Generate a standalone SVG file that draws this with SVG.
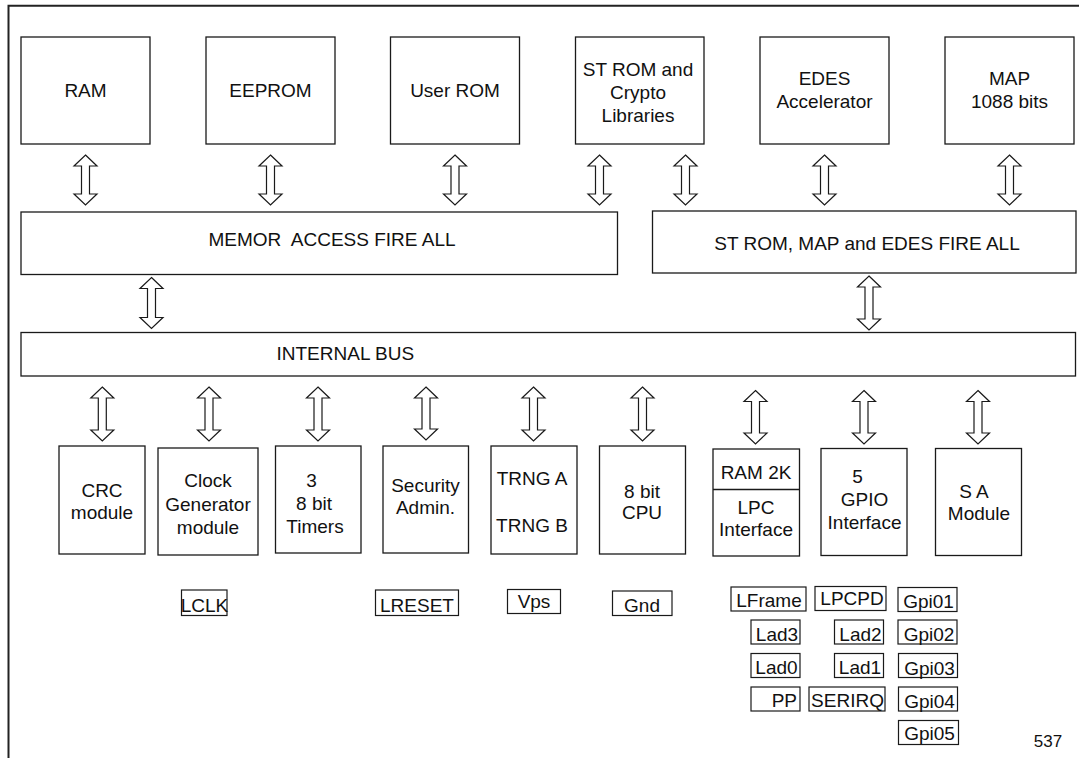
<svg xmlns="http://www.w3.org/2000/svg" width="1079" height="758" viewBox="0 0 1079 758">
<style>
.box{fill:#fff;stroke:#1a1a1a;stroke-width:1.3}
.pin{fill:#fff;stroke:#1a1a1a;stroke-width:1.2}
.arr{fill:#fff;stroke:#1a1a1a;stroke-width:1.2;stroke-linejoin:miter}
.frame{fill:none;stroke:#222;stroke-width:2}
text{font-family:"Liberation Sans",Arial,sans-serif;font-size:19px;fill:#111;text-anchor:middle}
.st{text-anchor:start}
.en{text-anchor:end}
.num{font-size:17px}
</style>
<rect width="1079" height="758" fill="#fff"/>
<g id="frame"><path class="frame" d="M8.5,758 V5.7 H1079"/></g>

<g id="connectors">
<path class="arr" d="M85.5,155 l11.5,11 h-7.5 v28 h7.5 l-11.5,11 l-11.5,-11 h7.5 v-28 h-7.5 z"/>
<path class="arr" d="M270.5,155 l11.5,11 h-7.5 v28 h7.5 l-11.5,11 l-11.5,-11 h7.5 v-28 h-7.5 z"/>
<path class="arr" d="M455,155 l11.5,11 h-7.5 v28 h7.5 l-11.5,11 l-11.5,-11 h7.5 v-28 h-7.5 z"/>
<path class="arr" d="M599.5,155 l11.5,11 h-7.5 v28 h7.5 l-11.5,11 l-11.5,-11 h7.5 v-28 h-7.5 z"/>
<path class="arr" d="M685.5,155 l11.5,11 h-7.5 v28 h7.5 l-11.5,11 l-11.5,-11 h7.5 v-28 h-7.5 z"/>
<path class="arr" d="M824.5,155 l11.5,11 h-7.5 v28 h7.5 l-11.5,11 l-11.5,-11 h7.5 v-28 h-7.5 z"/>
<path class="arr" d="M1009.5,155 l11.5,11 h-7.5 v28 h7.5 l-11.5,11 l-11.5,-11 h7.5 v-28 h-7.5 z"/>
<path class="arr" d="M151.5,277.5 l11.5,11 h-7.5 v29 h7.5 l-11.5,11 l-11.5,-11 h7.5 v-29 h-7.5 z"/>
<path class="arr" d="M869,276 l11.5,11 h-7.5 v32 h7.5 l-11.5,11 l-11.5,-11 h7.5 v-32 h-7.5 z"/>
<path class="arr" d="M102.3,387 l11.5,11 h-7.5 v32 h7.5 l-11.5,11 l-11.5,-11 h7.5 v-32 h-7.5 z"/>
<path class="arr" d="M209,387 l11.5,11 h-7.5 v32 h7.5 l-11.5,11 l-11.5,-11 h7.5 v-32 h-7.5 z"/>
<path class="arr" d="M318,387 l11.5,11 h-7.5 v32 h7.5 l-11.5,11 l-11.5,-11 h7.5 v-32 h-7.5 z"/>
<path class="arr" d="M426,387 l11.5,11 h-7.5 v31 h7.5 l-11.5,11 l-11.5,-11 h7.5 v-31 h-7.5 z"/>
<path class="arr" d="M533.5,387 l11.5,11 h-7.5 v32 h7.5 l-11.5,11 l-11.5,-11 h7.5 v-32 h-7.5 z"/>
<path class="arr" d="M642.5,387 l11.5,11 h-7.5 v32 h7.5 l-11.5,11 l-11.5,-11 h7.5 v-32 h-7.5 z"/>
<path class="arr" d="M755.5,390.5 l11.5,11 h-7.5 v31.5 h7.5 l-11.5,11 l-11.5,-11 h7.5 v-31.5 h-7.5 z"/>
<path class="arr" d="M864,390.5 l11.5,11 h-7.5 v31.5 h7.5 l-11.5,11 l-11.5,-11 h7.5 v-31.5 h-7.5 z"/>
<path class="arr" d="M978,390.5 l11.5,11 h-7.5 v31.5 h7.5 l-11.5,11 l-11.5,-11 h7.5 v-31.5 h-7.5 z"/>
</g>

<g id="ram"><rect class="box" x="21" y="37" width="129" height="107"/><text x="85.5" y="96.5">RAM</text></g>
<g id="eeprom"><rect class="box" x="206" y="37" width="129" height="107"/><text x="270.5" y="96.5">EEPROM</text></g>
<g id="user-rom"><rect class="box" x="390.5" y="37" width="129" height="107"/><text x="455" y="96.5">User ROM</text></g>
<g id="st-rom"><rect class="box" x="575.5" y="37" width="128.5" height="107"/><text x="638" y="75.5">ST ROM and</text><text x="638" y="98.5">Crypto</text><text x="638" y="122">Libraries</text></g>
<g id="edes"><rect class="box" x="760" y="37" width="129" height="107"/><text x="824.5" y="84.5">EDES</text><text x="824.5" y="108">Accelerator</text></g>
<g id="map"><rect class="box" x="945" y="37" width="129" height="107"/><text x="1009.5" y="84.5">MAP</text><text x="1009.5" y="108">1088 bits</text></g>

<g id="memory-firewall"><rect class="box" x="21" y="212" width="596.5" height="62.5"/><text x="332" y="246" xml:space="preserve" style="white-space:pre">MEMOR  ACCESS FIRE ALL</text></g>
<g id="st-firewall"><rect class="box" x="652.5" y="211" width="423.5" height="62"/><text x="867" y="249.5">ST ROM, MAP and EDES FIRE ALL</text></g>
<g id="internal-bus"><rect class="box" x="21" y="332.5" width="1054.5" height="43.5"/><text class="st" x="276.5" y="360">INTERNAL BUS</text></g>

<g id="crc"><rect class="box" x="59" y="446" width="86" height="108"/><text x="102" y="497">CRC</text><text x="102" y="519">module</text></g>
<g id="clock"><rect class="box" x="158" y="448" width="100" height="107"/><text x="208" y="487">Clock</text><text x="208" y="510.5">Generator</text><text x="208" y="534">module</text></g>
<g id="timers"><rect class="box" x="275.5" y="446" width="85.5" height="107"/><text x="311.5" y="487">3</text><text x="314" y="509.5">8 bit</text><text x="315" y="533">Timers</text></g>
<g id="security"><rect class="box" x="383" y="446" width="85.5" height="107"/><text x="425.5" y="491.5">Security</text><text x="425.5" y="513.5">Admin.</text></g>
<g id="trng"><rect class="box" x="491" y="446" width="86" height="108"/><text x="532" y="484.5">TRNG A</text><text x="532" y="531.5">TRNG B</text></g>
<g id="cpu"><rect class="box" x="599.5" y="446" width="86" height="108"/><text x="642" y="497.5">8 bit</text><text x="642" y="519">CPU</text></g>
<g id="lpc"><rect class="box" x="713" y="449" width="86.5" height="107"/><line class="box" x1="713" y1="489.5" x2="799.5" y2="489.5"/><text x="756" y="479">RAM 2K</text><text x="756" y="513.5">LPC</text><text x="756" y="536">Interface</text></g>
<g id="gpio"><rect class="box" x="821" y="448.5" width="86" height="107"/><text x="857.5" y="482.5">5</text><text x="864.5" y="506">GPIO</text><text x="864.5" y="529">Interface</text></g>
<g id="sa"><rect class="box" x="935.5" y="448.5" width="86" height="107"/><text x="974" y="497.5">S A</text><text x="979" y="520">Module</text></g>

<g id="pin-lclk"><rect class="pin" x="181.5" y="590" width="45.5" height="25.5"/><text x="204.5" y="612">LCLK</text></g>
<g id="pin-lreset"><rect class="pin" x="375.5" y="590" width="83" height="25.5"/><text x="417" y="612">LRESET</text></g>
<g id="pin-vps"><rect class="pin" x="507.5" y="589.5" width="53" height="24"/><text x="534" y="608">Vps</text></g>
<g id="pin-gnd"><rect class="pin" x="612.5" y="591" width="59.5" height="24.5"/><text x="642" y="612">Gnd</text></g>

<g id="pin-lframe"><rect class="pin" x="731" y="587" width="75" height="24"/><text x="769" y="607">LFrame</text></g>
<g id="pin-lpcpd"><rect class="pin" x="815" y="586.5" width="71" height="24"/><text x="852" y="604.5">LPCPD</text></g>
<g id="pin-gpi01"><rect class="pin" x="898" y="587.5" width="59" height="24"/><text x="928.5" y="608">Gpi01</text></g>
<g id="pin-lad3"><rect class="pin" x="751" y="620" width="49" height="24"/><text x="777" y="640.5">Lad3</text></g>
<g id="pin-lad2"><rect class="pin" x="834.5" y="620" width="49" height="24"/><text x="860.5" y="640.5">Lad2</text></g>
<g id="pin-gpi02"><rect class="pin" x="898" y="620" width="59" height="24"/><text x="929" y="641">Gpi02</text></g>
<g id="pin-lad0"><rect class="pin" x="751" y="653.5" width="49" height="24"/><text x="776.5" y="674">Lad0</text></g>
<g id="pin-lad1"><rect class="pin" x="834.5" y="653.5" width="49" height="24"/><text x="860" y="674">Lad1</text></g>
<g id="pin-gpi03"><rect class="pin" x="898.5" y="653.5" width="59" height="24"/><text x="929.5" y="674.5">Gpi03</text></g>
<g id="pin-pp"><rect class="pin" x="751" y="687" width="49" height="24"/><text class="en" x="797" y="707">PP</text></g>
<g id="pin-serirq"><rect class="pin" x="809" y="687" width="76" height="24"/><text x="847.5" y="707">SERIRQ</text></g>
<g id="pin-gpi04"><rect class="pin" x="898.5" y="687" width="59" height="24"/><text x="929.5" y="707.5">Gpi04</text></g>
<g id="pin-gpi05"><rect class="pin" x="898.5" y="720.5" width="60" height="24"/><text x="929.5" y="740">Gpi05</text></g>

<text class="num" x="1048" y="746.5">537</text>
</svg>
